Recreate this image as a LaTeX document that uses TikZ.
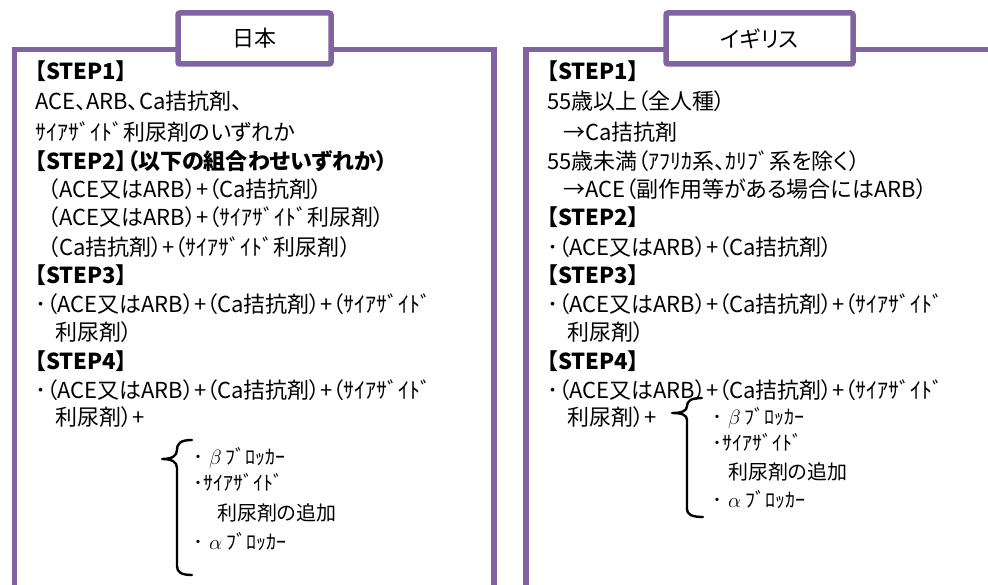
\documentclass[tikz,border=0pt]{standalone}
\usepackage{fontspec}
\setmainfont[RawFeature=+palt]{Noto Sans CJK JP}
\definecolor{framepurple}{RGB}{128,100,162}
\begin{document}
\begin{tikzpicture}[x=1pt,y=-1pt,
  frame/.style={draw=framepurple,line width=5.5pt},
  tabbox/.style={draw=framepurple,line width=5.5pt,fill=white,rounded corners=2pt,
    minimum height=51pt,inner sep=0pt,font=\fontsize{22}{26}\selectfont},
  txt/.style={anchor=base west,inner sep=0pt,font=\fontsize{22}{26}\selectfont},
  itm/.style={anchor=base west,inner sep=0pt,font=\fontsize{20}{24}\selectfont},
  bracepath/.style={draw=black,line width=2.4pt,line cap=round,line join=round}]
\useasboundingbox (0,0) rectangle (988,585);
% frames
\draw[frame] (14.7,585) -- (14.7,49.5) -- (494,49.5) -- (494,585);
\draw[frame] (526,585) -- (526,49.5) -- (988,49.5);
% tabs
\node[tabbox,minimum width=153pt] (tabL) at (254.5,38.5) {日本};
\node[tabbox,minimum width=187pt] (tabR) at (759.5,38.5) {イギリス};
% left text
\node[txt,font=\fontsize{22}{26}\selectfont\bfseries] (L0) at (35,80) {【STEP1】};
\node[txt] (L1) at (35,110) {ACE、ARB、Ca拮抗剤、};
\node[txt] (L2) at (35,140.5) {ｻｲｱｻﾞｲﾄﾞ利尿剤のいずれか};
\node[txt,font=\fontsize{22}{26}\selectfont\bfseries] (L3) at (35,170) {【STEP2】（以下の組合わせいずれか）};
\node[txt] (L4) at (48,198) {（ACE又はARB）+（Ca拮抗剤）};
\node[txt] (L5) at (48,226) {（ACE又はARB）+（ｻｲｱｻﾞｲﾄﾞ利尿剤）};
\node[txt] (L6) at (48,255.5) {（Ca拮抗剤）+（ｻｲｱｻﾞｲﾄﾞ利尿剤）};
\node[txt,font=\fontsize{22}{26}\selectfont\bfseries] (L7) at (35,284) {【STEP3】};
\node[txt] (L8) at (35,313) {･（ACE又はARB）+（Ca拮抗剤）+（ｻｲｱｻﾞｲﾄﾞ};
\node[txt] (L9) at (55,340.5) {利尿剤）};
\node[txt,font=\fontsize{22}{26}\selectfont\bfseries] (L10) at (35,369) {【STEP4】};
\node[txt] (L11) at (35,398) {･（ACE又はARB）+（Ca拮抗剤）+（ｻｲｱｻﾞｲﾄﾞ};
\node[txt] (L12) at (55,425.5) {利尿剤）+};
% left brace
\draw[bracepath] (192,440) .. controls (181,440) and (177,443) .. (177,450)
  .. controls (177,456) and (172,459) .. (162,459)
  .. controls (172,459) and (177,462) .. (177,468) -- (177,566)
  .. controls (177,572) and (181,575) .. (192,575);
\node[itm] (LB1) at (193,464.5) {･\hspace{6pt}$\beta$\hspace{4pt}ﾌﾞﾛｯｶｰ};
\node[itm] (LB2) at (193,490.5) {･ｻｲｱｻﾞｲﾄﾞ};
\node[itm] (LB3) at (217,520.5) {利尿剤の追加};
\node[itm] (LB4) at (193,549.5) {･\hspace{6pt}$\alpha$\hspace{4pt}ﾌﾞﾛｯｶｰ};
% right text
\node[txt,font=\fontsize{22}{26}\selectfont\bfseries] (R0) at (547,80) {【STEP1】};
\node[txt] (R1) at (547,110) {55歳以上（全人種）};
\node[txt] (R2) at (563,140.5) {→Ca拮抗剤};
\node[txt] (R3) at (547,170) {55歳未満（ｱﾌﾘｶ系、ｶﾘﾌﾞ系を除く）};
\node[txt] (R4) at (563,198) {→ACE（副作用等がある場合にはARB）};
\node[txt,font=\fontsize{22}{26}\selectfont\bfseries] (R5) at (547,226) {【STEP2】};
\node[txt] (R6) at (547,255.5) {･（ACE又はARB）+（Ca拮抗剤）};
\node[txt,font=\fontsize{22}{26}\selectfont\bfseries] (R7) at (547,284) {【STEP3】};
\node[txt] (R8) at (547,313) {･（ACE又はARB）+（Ca拮抗剤）+（ｻｲｱｻﾞｲﾄﾞ};
\node[txt] (R9) at (567,340.5) {利尿剤）};
\node[txt,font=\fontsize{22}{26}\selectfont\bfseries] (R10) at (547,369) {【STEP4】};
\node[txt] (R11) at (547,398) {･（ACE又はARB）+（Ca拮抗剤）+（ｻｲｱｻﾞｲﾄﾞ};
\node[txt] (R12) at (567,425.5) {利尿剤）+};
% right brace
\draw[bracepath] (702,398) .. controls (691,398) and (687,401) .. (687,406)
  .. controls (687,411) and (682,413) .. (672,413)
  .. controls (682,413) and (687,415) .. (687,420) -- (687,509)
  .. controls (687,514) and (691,517) .. (703,517);
\node[itm] (RB1) at (712,424.5) {･\hspace{6pt}$\beta$\hspace{4pt}ﾌﾞﾛｯｶｰ};
\node[itm] (RB2) at (712,450.5) {･ｻｲｱｻﾞｲﾄﾞ};
\node[itm] (RB3) at (728,479.5) {利尿剤の追加};
\node[itm] (RB4) at (712,507.5) {･\hspace{6pt}$\alpha$\hspace{4pt}ﾌﾞﾛｯｶｰ};
\end{tikzpicture}
\end{document}
